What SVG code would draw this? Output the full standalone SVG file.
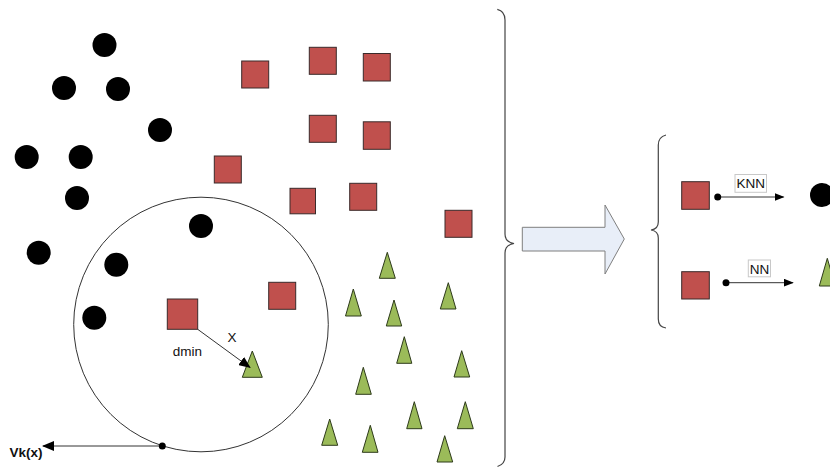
<svg xmlns="http://www.w3.org/2000/svg" width="830" height="468" viewBox="0 0 830 468">
  <style>
    .dot { fill: #000; }
    .sq { fill: #c0504d; stroke: #3a2a2a; stroke-width: 1; }
    .tri { fill: #9bbb59; stroke: #2d3a1a; stroke-width: 1; }
    .line { fill: none; stroke: #333; stroke-width: 1; }
    .brace { fill: none; stroke: #444; stroke-width: 1.2; }
    .lbl { font-family: "Liberation Sans", Arial, sans-serif; font-size: 13.5px; fill: #111; }
    .tag { fill: #fff; stroke: #c8c8c8; stroke-width: 1; }
  </style>
  <defs>
    <marker id="head" markerWidth="10" markerHeight="8" refX="9" refY="4" orient="auto" markerUnits="userSpaceOnUse">
      <path d="M0,0 L10,4 L0,8 Z" fill="#000"/>
    </marker>
    <marker id="headBig" markerWidth="12" markerHeight="10" refX="11" refY="5" orient="auto" markerUnits="userSpaceOnUse">
      <path d="M0,0 L12,5 L0,10 Z" fill="#000"/>
    </marker>
  </defs>

  <!-- class A: black points -->
  <g id="classA">
    <circle class="dot" cx="104.5" cy="45" r="12"/>
    <circle class="dot" cx="64" cy="88" r="12"/>
    <circle class="dot" cx="118" cy="89" r="12"/>
    <circle class="dot" cx="160" cy="130" r="12"/>
    <circle class="dot" cx="26.7" cy="157" r="12"/>
    <circle class="dot" cx="80.7" cy="157" r="12"/>
    <circle class="dot" cx="77" cy="198" r="12"/>
    <circle class="dot" cx="201" cy="226" r="12"/>
    <circle class="dot" cx="38.7" cy="252.7" r="12"/>
    <circle class="dot" cx="116.3" cy="264.7" r="12"/>
    <circle class="dot" cx="94.3" cy="317.7" r="12"/>
  </g>

  <!-- class B: red squares -->
  <g id="classB">
    <rect class="sq" x="241.7" y="61" width="27" height="27"/>
    <rect class="sq" x="309.3" y="47.3" width="27" height="27"/>
    <rect class="sq" x="363.3" y="53.5" width="27" height="27.5"/>
    <rect class="sq" x="309.3" y="115.3" width="27" height="27"/>
    <rect class="sq" x="363.3" y="121.8" width="27" height="27.5"/>
    <rect class="sq" x="214.3" y="156" width="27" height="27"/>
    <rect class="sq" x="290" y="188.3" width="25.5" height="25.5"/>
    <rect class="sq" x="349.7" y="183.3" width="27" height="27"/>
    <rect class="sq" x="445" y="210.3" width="27" height="27"/>
    <rect class="sq" x="268.7" y="282.3" width="27" height="27"/>
  </g>

  <!-- class C: green triangles -->
  <g id="classC">
    <polygon class="tri" points="387.3,252.3 395.3,278.3 379.3,278.3"/>
    <polygon class="tri" points="353.3,289 361.3,316 345.5,316"/>
    <polygon class="tri" points="448.3,282.7 456,309 440.3,309"/>
    <polygon class="tri" points="394,300 401.7,326 386.3,326"/>
    <polygon class="tri" points="404.3,336.7 411.8,363.3 396.7,363.3"/>
    <polygon class="tri" points="461.7,350.7 469.7,377 454,377"/>
    <polygon class="tri" points="363.3,367.3 371.3,394.3 355.7,394.3"/>
    <polygon class="tri" points="414.3,401.7 422,428.7 406.7,428.7"/>
    <polygon class="tri" points="465.3,401.7 473.3,428.7 457.3,428.7"/>
    <polygon class="tri" points="329.7,419 337.7,445.3 321.7,445.3"/>
    <polygon class="tri" points="370.3,425.3 378,452.3 362.3,452.3"/>
    <polygon class="tri" points="444.7,435.7 452.7,462 437,462"/>
  </g>

  <!-- neighbourhood of the query point -->
  <g id="neighbourhood">
    <circle class="line" cx="201" cy="324.5" r="127.3" stroke="#555"/>
  </g>

  <!-- query point and its nearest neighbour -->
  <g id="query">
    <rect class="sq" x="167.3" y="299" width="30.4" height="30.3"/>
  </g>
  <g id="nearest">
    <polygon class="tri" points="252.3,351 262.3,377.3 242.3,377.3"/>
  </g>

  <!-- connectors -->
  <g id="connectors">
    <line class="line" x1="197.7" y1="329.3" x2="250" y2="367.5" marker-end="url(#headBig)"/>
    <line class="line" x1="162.3" y1="446" x2="43" y2="446" marker-end="url(#headBig)"/>
    <circle class="dot" cx="162.3" cy="446" r="3.5"/>
    <line class="line" x1="717.7" y1="197" x2="783.5" y2="197" stroke="#000" marker-end="url(#head)"/>
    <circle class="dot" cx="717.7" cy="197" r="3.5"/>
    <line class="line" x1="726" y1="282.7" x2="792.8" y2="282.7" stroke="#000" marker-end="url(#head)"/>
    <circle class="dot" cx="726" cy="282.7" r="3.5"/>
  </g>

  <!-- labels -->
  <g id="labels">
    <text class="lbl" x="232" y="341.7" text-anchor="middle">X</text>
    <text class="lbl" x="187.5" y="356" text-anchor="middle">dmin</text>
    <text class="lbl" x="9.5" y="457" font-size="14" font-weight="bold">Vk(x)</text>
  </g>

  <!-- brace around the feature space -->
  <g id="braceMain">
    <path class="brace" d="M497.3,9.3 Q505,11 505,20 L505,234 Q505,242 514,243.5 Q505,245 505,253 L505,457 Q505,464 497.5,466.5"/>
  </g>

  <!-- block arrow -->
  <g id="blockArrow">
    <path d="M522.3,227.3 L605,227.3 L605,205 L624.3,239 L605,274 L605,251 L522.3,251 Z" fill="#e8eef8" stroke="#7f7f7f" stroke-width="1"/>
  </g>

  <!-- brace around the results -->
  <g id="braceResult">
    <path class="brace" d="M666,135 Q658.3,137 658.3,145 L658.3,222 Q658.3,229 651,230 Q658.3,231 658.3,238 L658.3,319 Q658.3,327 666,328"/>
  </g>

  <!-- KNN result -->
  <g id="knn">
    <rect class="sq" x="681.7" y="181.7" width="27.6" height="27.6"/>
    <rect class="tag" x="735" y="174.5" width="31.5" height="17.8"/>
    <text class="lbl" x="750.8" y="188.2" text-anchor="middle">KNN</text>
    <circle class="dot" cx="822" cy="195" r="12"/>
  </g>

  <!-- NN result -->
  <g id="nn">
    <rect class="sq" x="681.7" y="271.7" width="27.6" height="27.3"/>
    <rect class="tag" x="748.3" y="260" width="22.2" height="16.8"/>
    <text class="lbl" x="759.4" y="273.5" text-anchor="middle">NN</text>
    <polygon class="tri" points="827.3,258.3 835.3,286 819.3,286"/>
  </g>
</svg>
